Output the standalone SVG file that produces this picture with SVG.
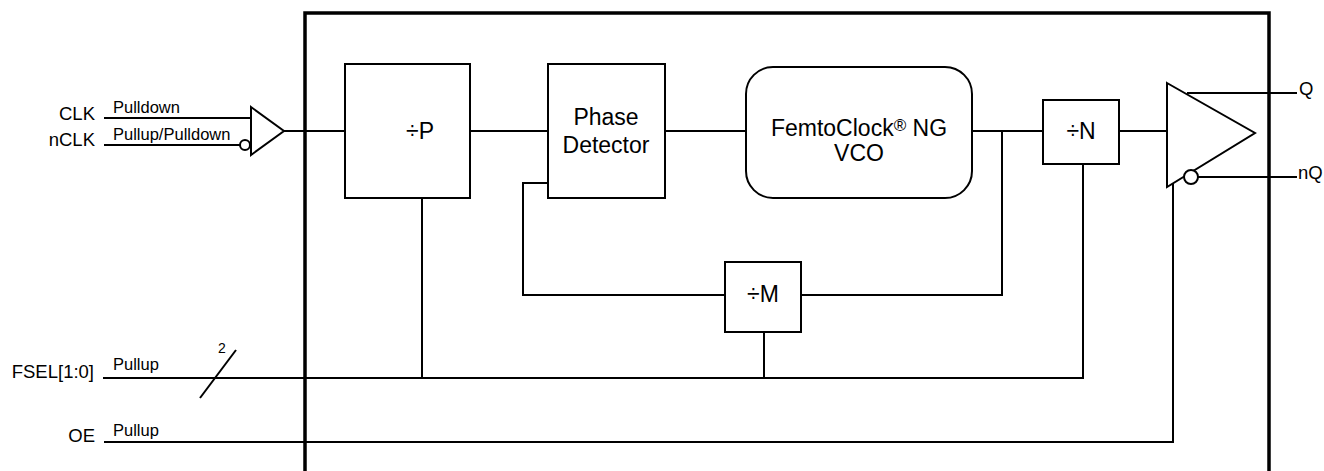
<svg xmlns="http://www.w3.org/2000/svg" width="1324" height="471" viewBox="0 0 1324 471">
<style>
.ln{fill:none;stroke:#000;stroke-width:2}
.bx{fill:#fff;stroke:#000;stroke-width:2}
.t{font-family:"Liberation Sans",Arial,sans-serif;fill:#000}
.lbl{font-size:18.5px}
.sm{font-size:16.5px}
.big{font-size:23px;text-anchor:middle}
</style>
<rect width="1324" height="471" fill="#fff"/>
<g id="connectors">
<path class="ln" d="M104 118H252M104 145H240M284 131H345M470 131H548M665 131H746M972 131H1043M1119 131H1167"/>
<path class="ln" d="M548 183H523V295H725M801 295H1002V131"/>
<path class="ln" d="M103 378H1083V164M422 198V378M764 332V378"/>
<path class="ln" d="M200 398L236 350"/>
<path class="ln" d="M104 442H1173V183"/>
<path class="ln" d="M1187 93H1297M1198 177H1297"/>
</g>
<rect id="chip" x="305" y="13" width="964" height="470" fill="none" stroke="#000" stroke-width="3.5"/>
<g id="input-buffer">
<path class="bx" d="M251 107L284 131L251 155Z"/>
<circle class="bx" cx="245" cy="145" r="5" stroke-width="1.5"/>
</g>
<g id="divP"><rect class="bx" x="345" y="64" width="125" height="134"/><text class="t big" x="420" y="139">÷P</text></g>
<g id="pd"><rect class="bx" x="548" y="64" width="117" height="134"/><text class="t big" x="606" y="125">Phase</text><text class="t big" x="606" y="153">Detector</text></g>
<g id="vco"><rect class="bx" x="746" y="67" width="226" height="131" rx="27"/><text class="t big" x="859" y="136">FemtoClock<tspan font-size="17" dy="-5">®</tspan><tspan dy="5"> NG</tspan></text><text class="t big" x="859" y="161">VCO</text></g>
<g id="divN"><rect class="bx" x="1043" y="100" width="76" height="64"/><text class="t big" x="1081" y="139">÷N</text></g>
<g id="divM"><rect class="bx" x="725" y="262" width="76" height="70"/><text class="t big" x="763" y="302">÷M</text></g>
<g id="output-buffer">
<path class="bx" d="M1167 83L1255 133L1167 187Z"/>
<circle class="bx" cx="1191" cy="177" r="7" stroke-width="1.5"/>
</g>
<g id="labels">
<text class="t lbl" x="95" y="120" text-anchor="end">CLK</text>
<text class="t lbl" x="95" y="146" text-anchor="end">nCLK</text>
<text class="t lbl" x="94" y="378" text-anchor="end">FSEL[1:0]</text>
<text class="t lbl" x="95" y="442" text-anchor="end">OE</text>
<text class="t sm" x="113" y="113">Pulldown</text>
<text class="t sm" x="113" y="140">Pullup/Pulldown</text>
<text class="t sm" x="113" y="370">Pullup</text>
<text class="t sm" x="113" y="436">Pullup</text>
<text class="t" font-size="14" x="218" y="353">2</text>
<text class="t lbl" x="1299" y="95">Q</text>
<text class="t lbl" x="1298" y="179">nQ</text>
</g>
</svg>
